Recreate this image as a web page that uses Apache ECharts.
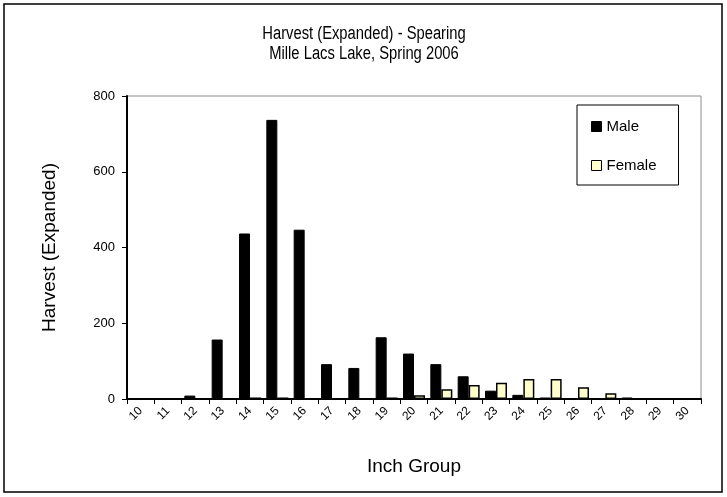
<!DOCTYPE html>
<html>
<head>
<meta charset="utf-8">
<script src="https://cdn.jsdelivr.net/npm/echarts@6/dist/echarts.min.js"></script>
<style>
  html, body { margin: 0; padding: 0; background: #fff; }
  #chart { width: 727px; height: 497px; }
</style>
</head>
<body>
<div id="chart"></div>
<script>
  // inch groups on the x axis
  let inchGroups = ['10','11','12','13','14','15','16','17','18','19','20',
                    '21','22','23','24','25','26','27','28','29','30'];
  // harvest (expanded)
  let maleHarvest   = [0, 0, 9, 157, 437, 737, 447, 92, 82, 163, 120, 92, 60, 22, 11, 4, 0, 0, 4, 0, 0];
  let femaleHarvest = [0, 0, 0, 0, 4, 4, 0, 0, 0, 4, 10, 26, 37, 43, 53, 53, 31, 15, 0, 0, 0];
  let yTicks = [0, 200, 400, 600, 800];
  let titleLines = ['Harvest (Expanded) - Spearing', 'Mille Lacs Lake, Spring 2006'];

  let font = "'Liberation Sans', Arial, sans-serif";
  let chart = echarts.init(document.getElementById('chart'));

  let option = {
    backgroundColor: '#fff',
    animation: false,
    textStyle: { fontFamily: font, color: '#000' },
    legend: {
      orient: 'vertical',
      left: 577,
      top: 105,
      padding: [14, 22, 12, 14],
      itemGap: 24,
      itemWidth: 10,
      itemHeight: 10,
      borderColor: '#000',
      borderWidth: 1,
      textStyle: { fontFamily: font, fontSize: 15, color: '#000' },
      data: [
        { name: 'Male', icon: 'rect', itemStyle: { color: '#000', borderColor: '#000', borderWidth: 1 } },
        { name: 'Female', icon: 'rect', itemStyle: { color: '#ffffcc', borderColor: '#000', borderWidth: 1 } }
      ]
    },
    grid: {
      left: 127,
      top: 96,
      right: 26,
      bottom: 98,
      show: true,
      borderColor: '#8c8c8c',
      borderWidth: 1,
      containLabel: false
    },
    xAxis: {
      type: 'category',
      data: inchGroups,
      name: 'Inch Group',
      nameLocation: 'middle',
      nameGap: 58,
      nameTextStyle: { fontFamily: font, fontSize: 19, color: '#000' },
      axisLine: { lineStyle: { color: '#000', width: 2 } },
      axisTick: { show: true, length: 5, lineStyle: { color: '#000', width: 1 } },
      axisLabel: { rotate: 45, fontFamily: font, fontSize: 12, color: '#000', margin: 10 },
      splitLine: { show: false }
    },
    yAxis: {
      type: 'value',
      min: 0,
      max: yTicks[yTicks.length - 1],
      interval: yTicks[1] - yTicks[0],
      name: 'Harvest (Expanded)',
      nameLocation: 'middle',
      nameGap: 68,
      nameTextStyle: { fontFamily: font, fontSize: 19, color: '#000' },
      axisLine: { show: true, lineStyle: { color: '#000', width: 2 } },
      axisTick: { show: true, length: 5, lineStyle: { color: '#000', width: 1 } },
      axisLabel: { fontFamily: font, fontSize: 13, color: '#000', margin: 12 },
      splitLine: { show: false }
    },
    series: [
      {
        name: 'Male',
        type: 'bar',
        data: maleHarvest,
        barWidth: 11,
        barGap: '0%',
        itemStyle: { color: '#000', borderColor: '#000', borderWidth: 1 }
      },
      {
        name: 'Female',
        type: 'bar',
        data: femaleHarvest,
        barWidth: 11,
        itemStyle: { color: '#ffffcc', borderColor: '#000', borderWidth: 1.5 }
      }
    ],
    graphic: [
      {
        type: 'rect',
        shape: { x: 4, y: 4, width: 718, height: 488 },
        style: { fill: 'none', stroke: '#000', lineWidth: 1.5 },
        silent: true
      },
      // title is a bit condensed in the original, so squeeze it horizontally
      {
        type: 'text',
        x: 364,
        y: 24,
        scaleX: 0.82,
        silent: true,
        style: {
          text: titleLines.join('\n'),
          font: "18px 'Liberation Sans', Arial, sans-serif",
          fill: '#000',
          align: 'center',
          lineHeight: 20
        }
      }
    ]
  };

  chart.setOption(option);
</script>
</body>
</html>
